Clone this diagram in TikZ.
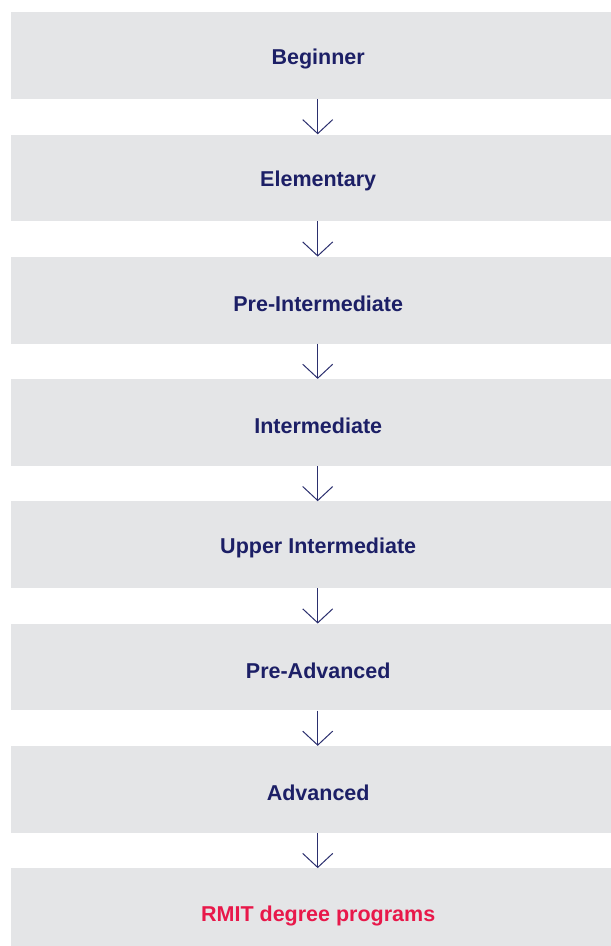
\documentclass[tikz,border=0pt]{standalone}
\usepackage{fontspec}
\setmainfont{Liberation Sans}
\usetikzlibrary{arrows.meta}
\definecolor{boxgray}{HTML}{E4E5E7}
\definecolor{navytext}{HTML}{1C1F66}
\definecolor{arrowcol}{HTML}{2B2F6E}
\definecolor{rmitred}{HTML}{E8184A}
\begin{document}
\begin{tikzpicture}[x=1bp,y=-1bp,
  levelbox/.style={fill=boxgray, draw=none, minimum width=600bp, minimum height=86.7bp, inner sep=0pt,
    anchor=north west},
  leveltext/.style={font=\fontsize{21.5bp}{24bp}\selectfont\bfseries, text=navytext},
  flowarrow/.style={draw=arrowcol, line width=1bp, -{Straight Barb[length=14bp,width=30bp,line width=1bp]}}]
\useasboundingbox (0,0) rectangle (611,946);
\foreach \n/\y/\t in {1/12/Beginner,2/134.3/Elementary,3/256.6/Pre-Intermediate,4/378.9/Intermediate,5/501.2/Upper Intermediate,6/623.5/Pre-Advanced,7/745.8/Advanced}{
  \node[levelbox] (b\n) at (11,\y) {};
  \node[leveltext] (t\n) at ([xshift=7bp,yshift=-3.5bp]b\n.center) {\t};
}
\node[levelbox, minimum height=90bp] (b8) at (11,868.1) {};
\node[leveltext, text=rmitred] (t8) at ([xshift=7bp,yshift=-2.5bp]b8.center) {RMIT degree programs};
\foreach \a/\b in {b1/b2,b2/b3,b3/b4,b4/b5,b5/b6,b6/b7,b7/b8}{
  \draw[flowarrow] ([xshift=6.5bp]\a.south) -- ([xshift=6.5bp]\b.north);
}
\end{tikzpicture}
\end{document}
